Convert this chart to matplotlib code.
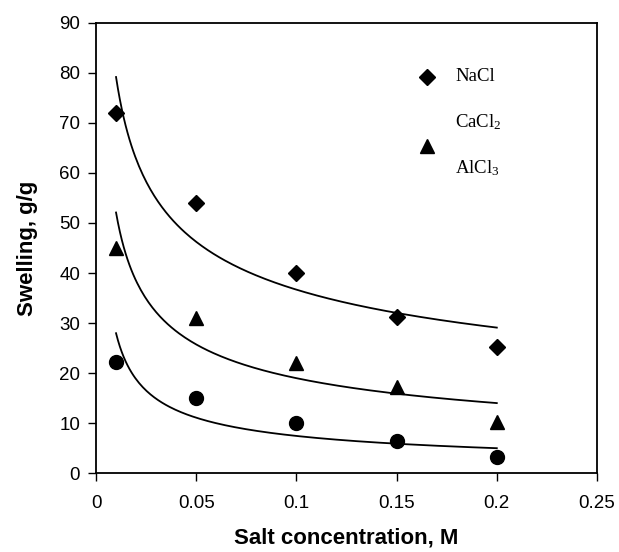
import numpy as np
import matplotlib
matplotlib.use("Agg")
import matplotlib.pyplot as plt

# Data
conc = [0.01, 0.05, 0.10, 0.15, 0.20]
nacl = [72, 54, 40, 31.2, 25.2]
tri_series = [45, 31, 22, 17.2, 10.3]
circ_series = [22.2, 15, 10, 6.4, 3.3]

# power-law fit lines y = a * x**b (values estimated from curve endpoints)
fit_a = [17.0, 6.93, 1.99]
fit_b = [-0.334, -0.438, -0.574]
fit_range = [0.01, 0.20]

legend_labels = ["NaCl", "CaCl$_2$", "AlCl$_3$"]
xticks = [0, 0.05, 0.1, 0.15, 0.2, 0.25]
xticklabels = ["0", "0.05", "0.1", "0.15", "0.2", "0.25"]
yticks = list(range(0, 91, 10))

plt.rcParams['font.family'] = ['Liberation Sans', 'DejaVu Sans']
plt.rcParams['mathtext.fontset'] = 'custom'
plt.rcParams['mathtext.rm'] = 'Liberation Serif'
plt.rcParams['mathtext.it'] = 'Liberation Serif:italic'
plt.rcParams['mathtext.bf'] = 'Liberation Serif:bold'

fig = plt.figure(figsize=(6.19, 5.52), dpi=100)
ax = fig.add_axes([96/619, 1-473.3/552, (597-96)/619, (473.3-22.7)/552])

xf = np.linspace(fit_range[0], fit_range[1], 200)
for a, b in zip(fit_a, fit_b):
    ax.plot(xf, a * xf**b, color='black', lw=1.3)

ax.plot(conc, nacl, 'D', color='black', ms=8, ls='none')
ax.plot(conc, tri_series, '^', color='black', ms=10, ls='none')
ax.plot(conc, circ_series, 'o', color='black', ms=10, ls='none')

ax.set_xlim(0, 0.25)
ax.set_ylim(0, 90)
ax.set_xticks(xticks)
ax.set_xticklabels(xticklabels)
ax.set_yticks(yticks)
ax.tick_params(direction='out', length=5.5, width=1, labelsize=13.5)
ax.tick_params(axis='x', pad=10)
ax.tick_params(axis='y', pad=6)
for s in ax.spines.values():
    s.set_linewidth(1.3)

ax.set_xlabel("Salt concentration, M", fontsize=16, fontweight='bold', labelpad=11)
ax.set_ylabel("Swelling, g/g", fontsize=16, fontweight='bold', labelpad=15)

# legend-like annotations (as in the original figure)
tr = ax.transAxes
def ax_xy(px, py):
    return ((px - 96) / (597 - 96), (473.3 - py) / (473.3 - 22.7))
serif = ['Liberation Serif', 'DejaVu Serif']
ax.plot(*ax_xy(427, 77), 'D', color='black', ms=8, transform=tr, clip_on=False)
ax.plot(*ax_xy(427, 146), '^', color='black', ms=10, transform=tr, clip_on=False)
for lab, py in zip(legend_labels, [76, 122, 168]):
    ax.text(*ax_xy(455, py), lab, transform=tr, fontsize=13.5, family=serif,
            va='center', ha='left')

fig.savefig("out.png", dpi=100)
